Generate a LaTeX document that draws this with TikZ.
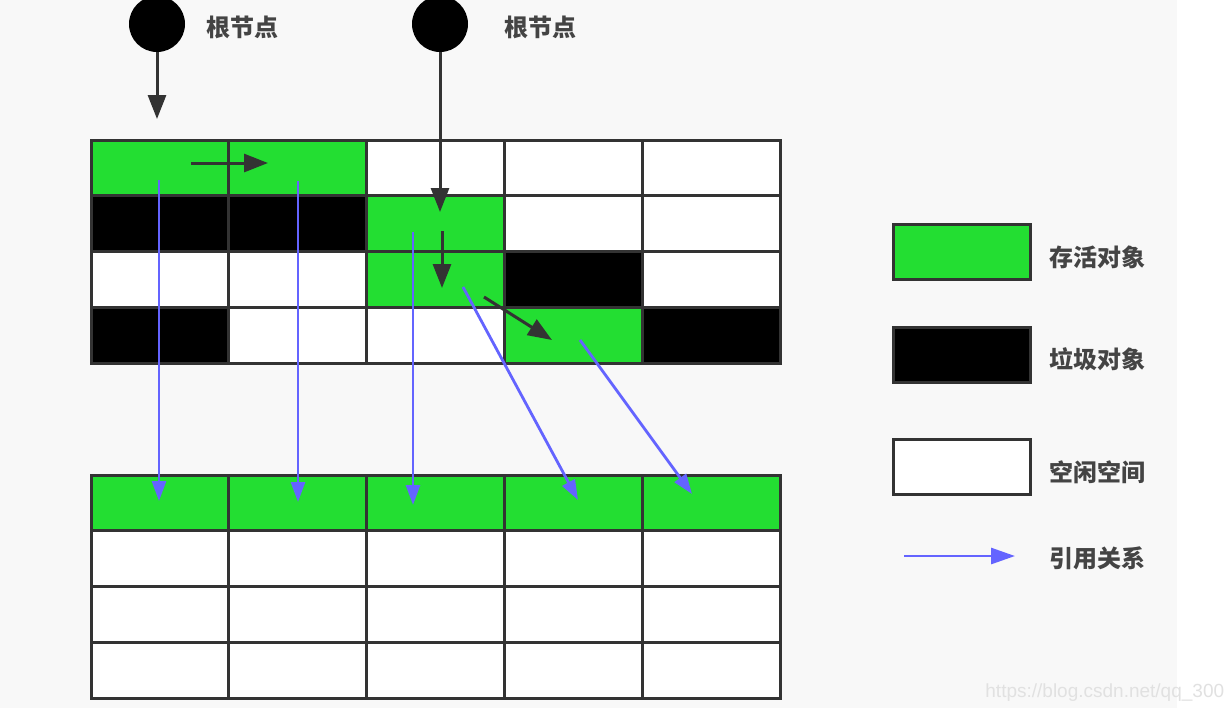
\documentclass[tikz,border=0pt]{standalone}
\usepackage{fontspec}
\setmainfont{Liberation Sans}
\newfontfamily\cjk{Noto Sans CJK SC}
\usetikzlibrary{arrows.meta}
\definecolor{livegreen}{RGB}{35,222,50}
\definecolor{gridc}{RGB}{51,51,51}
\definecolor{refblue}{RGB}{100,100,255}
\definecolor{bgc}{RGB}{248,248,248}
\definecolor{txtc}{RGB}{68,68,68}
\definecolor{wmc}{RGB}{225,225,225}
\tikzset{
  cell/.style={draw=gridc, line width=1.5pt, minimum width=68.9pt, minimum height=27.875pt, inner sep=0pt},
  rootnode/.style={circle, fill=black, minimum size=28pt, inner sep=0pt},
  darrow/.style={draw=gridc, line width=1.5pt, -{Triangle[length=12pt,width=9pt]}},
  barrow/.style={draw=refblue, line width=1.4pt, -{Triangle[length=10pt,width=7pt]}},
  lbl/.style={font=\cjk\bfseries\fontsize{12pt}{14pt}\selectfont, text=txtc, inner sep=0pt},
}
\begin{document}
\begin{tikzpicture}[x=0.5pt,y=-0.5pt]
\useasboundingbox (0,0) rectangle (1225,708);
\fill[white] (0,0) rectangle (1225,708);
\fill[bgc] (0,0) rectangle (1177,708);
% watermark
\node[anchor=west, text=wmc, font=\fontsize{9.5pt}{10pt}\selectfont, inner sep=0pt] (wm) at (985,693) {https://blog.csdn.net/qq\_300};
% top grid
\foreach \row [count=\r from 0] in {{livegreen,livegreen,white,white,white},{black,black,livegreen,white,white},{white,white,livegreen,black,white},{black,white,white,livegreen,black}}{
  \foreach \col [count=\c from 0] in \row {
    \node[cell, fill=\col] (t-\r-\c) at ({91+137.8*(\c+0.5)},{140+55.75*(\r+0.5)}) {};
  }
}
% bottom grid
\foreach \row [count=\r from 0] in {{livegreen,livegreen,livegreen,livegreen,livegreen},{white,white,white,white,white},{white,white,white,white,white},{white,white,white,white,white}}{
  \foreach \col [count=\c from 0] in \row {
    \node[cell, fill=\col] (b-\r-\c) at ({91+137.8*(\c+0.5)},{475+55.75*(\r+0.5)}) {};
  }
}
% roots
\node[rootnode] (r1) at (157,24) {};
\node[rootnode] (r2) at (440,24) {};
\node[lbl] (r1l) at (242,27) {根节点};
\node[lbl] (r2l) at (540,27) {根节点};
% coordinates
\coordinate (a1) at (157,119);
\coordinate (a2) at (440,212);
\coordinate (h1s) at (191,163);
\coordinate (h1e) at (268,163);
\coordinate (v1s) at (442,231);
\coordinate (v1e) at (442,288);
\coordinate (d1s) at (484,297);
\coordinate (d1e) at (552,340);
\coordinate (b1s) at (159,180);
\coordinate (b1e) at (159,501);
\coordinate (b2s) at (298,181);
\coordinate (b2e) at (298,502);
\coordinate (b3s) at (413,232);
\coordinate (b3e) at (413,505);
\coordinate (b4s) at (463,287);
\coordinate (b4e) at (578,500);
\coordinate (b5s) at (580,340);
\coordinate (b5e) at (692,494);
% reference arrows (blue)
\draw[barrow] (b1s) -- (b1e);
\draw[barrow] (b2s) -- (b2e);
\draw[barrow] (b3s) -- (b3e);
\draw[barrow] (b4s) -- (b4e);
\draw[barrow] (b5s) -- (b5e);
% dark arrows
\draw[darrow] (r1) -- (a1);
\draw[darrow] (r2) -- (a2);
\draw[darrow] (h1s) -- (h1e);
\draw[darrow] (v1s) -- (v1e);
\draw[darrow] (d1s) -- (d1e);
% legend
\node[cell, fill=livegreen] (lg1) at (962,252) {};
\node[cell, fill=black] (lg2) at (962,355) {};
\node[cell, fill=white] (lg3) at (962,467) {};
\coordinate (lg4s) at (904,556);
\coordinate (lg4e) at (1015,556);
\draw[draw=refblue, line width=1.4pt, -{Triangle[length=12pt,width=8pt]}] (lg4s) -- (lg4e);
\node[lbl, anchor=west] (lt1) at (1049,257) {存活对象};
\node[lbl, anchor=west] (lt2) at (1049,359) {垃圾对象};
\node[lbl, anchor=west] (lt3) at (1049,472) {空闲空间};
\node[lbl, anchor=west] (lt4) at (1049,558) {引用关系};
\end{tikzpicture}
\end{document}
